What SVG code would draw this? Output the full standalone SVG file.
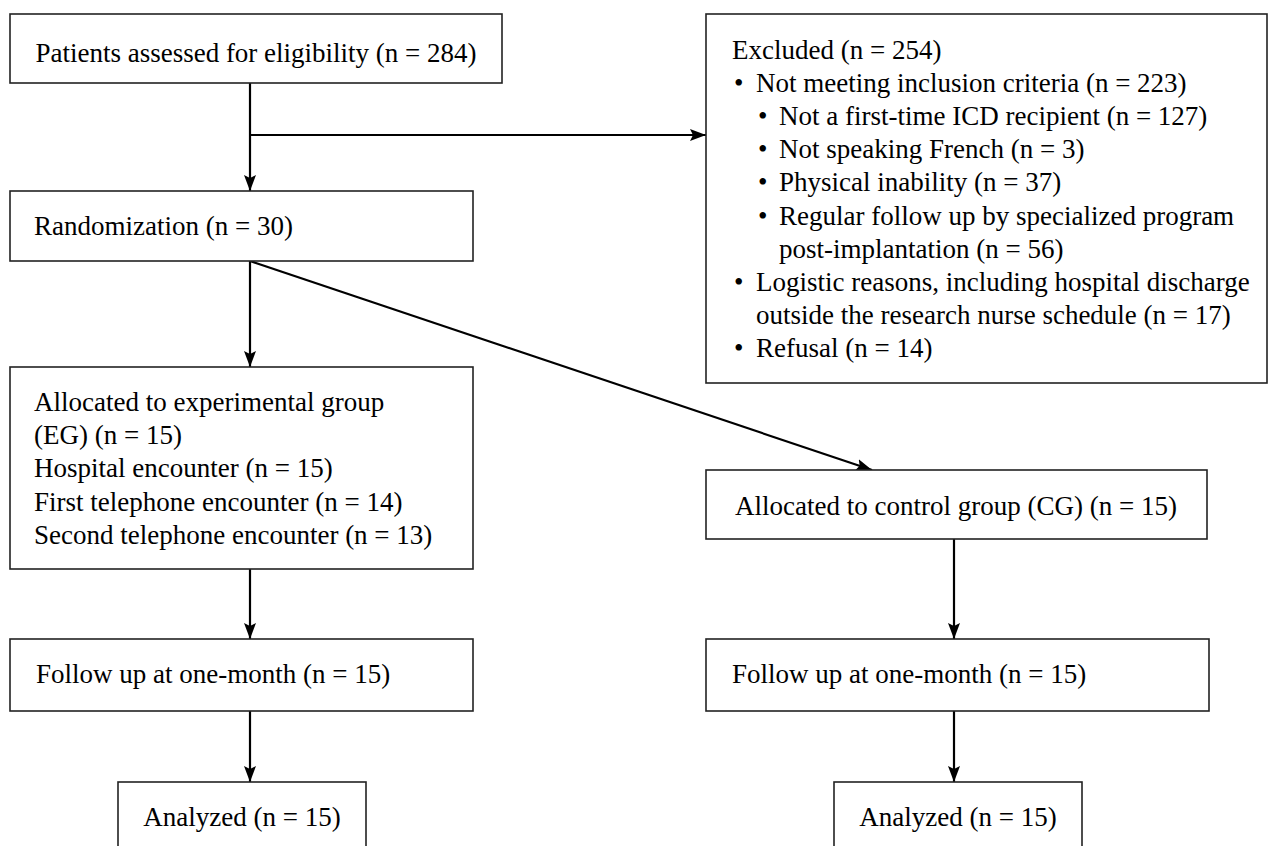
<svg xmlns="http://www.w3.org/2000/svg" width="1268" height="846" viewBox="0 0 1268 846">
<defs>
<marker id="arr" viewBox="0 0 16 12" refX="16" refY="6" markerWidth="16" markerHeight="12" markerUnits="userSpaceOnUse" orient="auto">
<path d="M0,0 L16,6 L0,12 L3,6 z" fill="#000"/>
</marker>
<style>
.box{fill:#fff;stroke:#222;stroke-width:1.6}
.t{font-family:"Liberation Serif","Times New Roman",serif;font-size:27px;fill:#000}
.c{text-anchor:middle}
.ln{fill:none;stroke:#000;stroke-width:2.2}
</style>
</defs>
<rect width="1268" height="846" fill="#fff"/>
<g id="connectors">
<line class="ln" x1="250" y1="83" x2="250" y2="191" marker-end="url(#arr)"/>
<line class="ln" x1="250" y1="135" x2="706" y2="135" marker-end="url(#arr)"/>
<line class="ln" x1="250" y1="261" x2="250" y2="367" marker-end="url(#arr)"/>
<line class="ln" x1="250" y1="261" x2="872" y2="470" marker-end="url(#arr)"/>
<line class="ln" x1="250" y1="569" x2="250" y2="639" marker-end="url(#arr)"/>
<line class="ln" x1="954" y1="539" x2="954" y2="639" marker-end="url(#arr)"/>
<line class="ln" x1="250" y1="711" x2="250" y2="782" marker-end="url(#arr)"/>
<line class="ln" x1="954" y1="711" x2="954" y2="782" marker-end="url(#arr)"/>
</g>
<g id="assessed">
<rect class="box" x="10" y="14" width="492" height="69"/>
<text class="t c" x="256" y="62">Patients assessed for eligibility (n = 284)</text>
</g>
<g id="excluded">
<rect class="box" x="706" y="14" width="561" height="369"/>
<text class="t" x="732" y="58.5">Excluded (n = 254)</text>
<text class="t" x="734" y="91.7">•</text><text class="t" x="756" y="91.7">Not meeting inclusion criteria (n = 223)</text>
<text class="t" x="758" y="124.9">•</text><text class="t" x="779" y="124.9">Not a first-time ICD recipient (n = 127)</text>
<text class="t" x="758" y="158.1">•</text><text class="t" x="779" y="158.1">Not speaking French (n = 3)</text>
<text class="t" x="758" y="191.3">•</text><text class="t" x="779" y="191.3">Physical inability (n = 37)</text>
<text class="t" x="758" y="224.5">•</text><text class="t" x="779" y="224.5">Regular follow up by specialized program</text>
<text class="t" x="779" y="257.7">post-implantation (n = 56)</text>
<text class="t" x="734" y="290.9">•</text><text class="t" x="756" y="290.9">Logistic reasons, including hospital discharge</text>
<text class="t" x="756" y="324.1">outside the research nurse schedule (n = 17)</text>
<text class="t" x="734" y="357.3">•</text><text class="t" x="756" y="357.3">Refusal (n = 14)</text>
</g>
<g id="randomization">
<rect class="box" x="10" y="191" width="463" height="70"/>
<text class="t" x="34" y="235">Randomization (n = 30)</text>
</g>
<g id="eg">
<rect class="box" x="10" y="367" width="463" height="202"/>
<text class="t" x="34" y="410.7">Allocated to experimental group</text>
<text class="t" x="34" y="444">(EG) (n = 15)</text>
<text class="t" x="34" y="477.3">Hospital encounter (n = 15)</text>
<text class="t" x="34" y="510.5">First telephone encounter (n = 14)</text>
<text class="t" x="34" y="543.8">Second telephone encounter (n = 13)</text>
</g>
<g id="cg">
<rect class="box" x="706" y="470" width="501" height="69"/>
<text class="t c" x="956" y="515">Allocated to control group (CG) (n = 15)</text>
</g>
<g id="fu-eg">
<rect class="box" x="10" y="639" width="463" height="72"/>
<text class="t" x="36" y="683">Follow up at one-month (n = 15)</text>
</g>
<g id="fu-cg">
<rect class="box" x="706" y="639" width="503" height="72"/>
<text class="t" x="732" y="683">Follow up at one-month (n = 15)</text>
</g>
<g id="an-eg">
<rect class="box" x="118" y="782" width="248" height="80"/>
<text class="t c" x="242" y="826">Analyzed (n = 15)</text>
</g>
<g id="an-cg">
<rect class="box" x="834" y="782" width="248" height="80"/>
<text class="t c" x="958" y="826">Analyzed (n = 15)</text>
</g>
</svg>
